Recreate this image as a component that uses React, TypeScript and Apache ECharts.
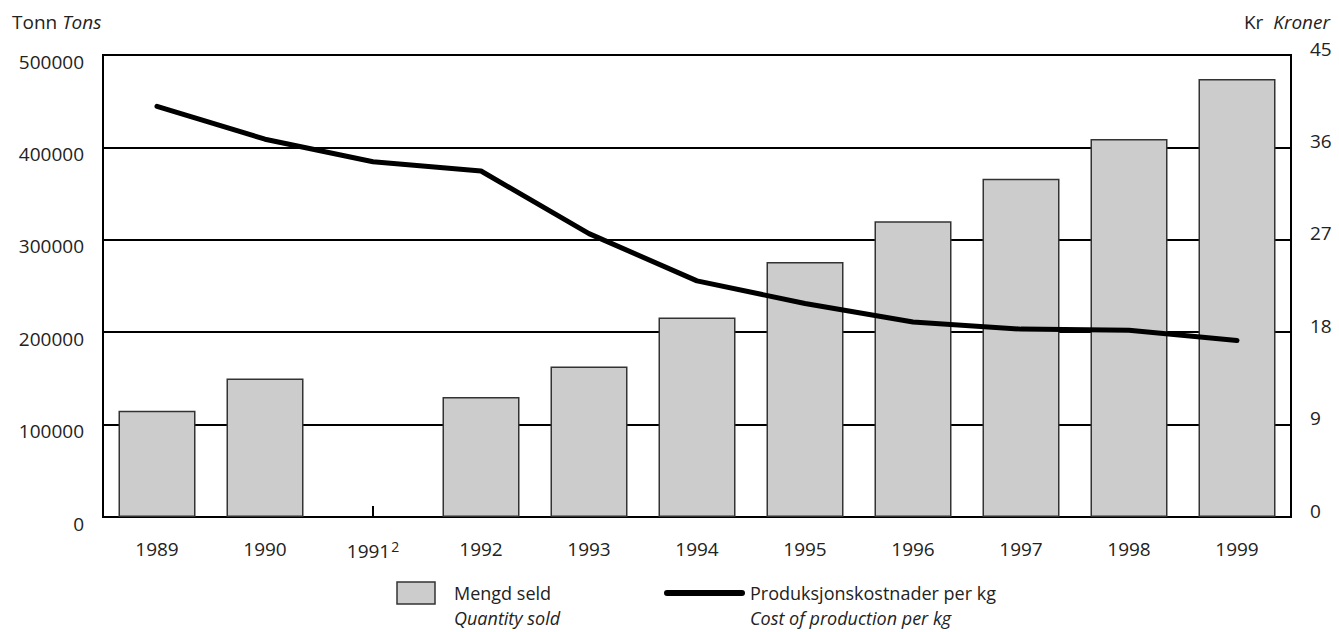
import React, { useEffect, useRef } from "react";
import * as echarts from "echarts";

const years = ["1989", "1990", "1991", "1992", "1993", "1994", "1995", "1996", "1997", "1998", "1999"];
const quantitySold = [115000, 150000, null, 130000, 163000, 216000, 276000, 320000, 366000, 409000, 474000];
const costPerKg = [40.0, 36.8, 34.6, 33.7, 27.6, 23.0, 20.8, 19.0, 18.3, 18.2, 17.2];
const leftTicks = { min: 0, max: 500000, interval: 100000 };
const rightTicks = { min: 0, max: 45, interval: 9 };

const FONT = "'Open Sans', sans-serif";
const TXT = "#222";

export default function App() {
  const ref = useRef<HTMLDivElement>(null);
  useEffect(() => {
    if (!ref.current) return;
    const chart = echarts.init(ref.current, undefined, { renderer: "svg" });
    chart.setOption({
      animation: false,
      backgroundColor: "#fff",
      textStyle: { fontFamily: FONT, color: TXT },
      grid: {
        left: 103,
        right: 48,
        top: 55,
        bottom: 115,
        show: true,
        borderColor: "#000",
        borderWidth: 2,
      },
      xAxis: {
        type: "category",
        data: years,
        boundaryGap: true,
        axisLine: { show: true, lineStyle: { color: "#000", width: 2 } },
        axisTick: {
          show: true,
          alignWithLabel: true,
          inside: true,
          length: 11,
          interval: (index: number) => index === 2,
          lineStyle: { color: "#000", width: 2 },
        },
        axisLabel: {
          interval: 0,
          margin: 22,
          fontSize: 19,
          color: TXT,
          fontFamily: FONT,
          formatter: (v: string) => (v === "1991" ? "1991{sup|2}" : v),
          rich: {
            sup: { fontSize: 14, verticalAlign: "top", padding: [0, 0, 10, 1], color: TXT, fontFamily: FONT },
          },
        },
      },
      yAxis: [
        {
          type: "value",
          min: leftTicks.min,
          max: leftTicks.max,
          interval: leftTicks.interval,
          axisLine: { show: true, lineStyle: { color: "#000", width: 2 } },
          axisTick: { show: false },
          splitLine: { show: true, lineStyle: { color: "#000", width: 2 } },
          axisLabel: {
            margin: 19,
            fontSize: 19,
            lineHeight: 13,
            color: TXT,
            fontFamily: FONT,
            verticalAlign: "top",
            formatter: (v: number) => String(v),
          },
        },
        {
          type: "value",
          min: rightTicks.min,
          max: rightTicks.max,
          interval: rightTicks.interval,
          position: "right",
          axisLine: { show: true, lineStyle: { color: "#000", width: 2 } },
          axisTick: { show: false },
          splitLine: { show: false },
          axisLabel: {
            margin: 19,
            fontSize: 19,
            lineHeight: 13,
            color: TXT,
            fontFamily: FONT,
            verticalAlign: "bottom",
            formatter: (v: number) => String(v),
          },
        },
      ],
      series: [
        {
          name: "Mengd seld",
          type: "bar",
          yAxisIndex: 0,
          data: quantitySold,
          barWidth: 77,
          itemStyle: { color: "#cccccc", borderColor: "#333", borderWidth: 1.5 },
          z: 3,
        },
        {
          name: "Produksjonskostnader per kg",
          type: "line",
          yAxisIndex: 1,
          data: costPerKg,
          showSymbol: false,
          symbol: "none",
          lineStyle: { color: "#000", width: 5, cap: "round", join: "round" },
          z: 5,
        },
      ],
      graphic: [
        {
          type: "text",
          left: 12,
          top: 12,
          style: {
            text: "Tonn {i|Tons}",
            fontSize: 19,
            fontFamily: FONT,
            fill: TXT,
            rich: { i: { fontStyle: "italic", fontSize: 19, fontFamily: FONT, fill: TXT } },
          },
        },
        {
          type: "text",
          right: 9,
          top: 12,
          style: {
            text: "Kr  {i|Kroner}",
            fontSize: 19,
            fontFamily: FONT,
            fill: TXT,
            rich: { i: { fontStyle: "italic", fontSize: 19, fontFamily: FONT, fill: TXT } },
          },
        },
        {
          type: "rect",
          shape: { x: 397, y: 582, width: 38, height: 22 },
          style: { fill: "#cccccc", stroke: "#333", lineWidth: 1.5 },
        },
        {
          type: "text",
          x: 454,
          y: 593,
          style: { text: "Mengd seld", fontSize: 18, fontFamily: FONT, fill: TXT, verticalAlign: "middle" },
        },
        {
          type: "text",
          x: 454,
          y: 618,
          style: { text: "Quantity sold", fontSize: 18, fontStyle: "italic", fontFamily: FONT, fill: TXT, verticalAlign: "middle" },
        },
        {
          type: "line",
          shape: { x1: 667, y1: 593, x2: 742, y2: 593 },
          style: { stroke: "#000", lineWidth: 6, lineCap: "round" },
        },
        {
          type: "text",
          x: 750,
          y: 593,
          style: { text: "Produksjonskostnader per kg", fontSize: 18, fontFamily: FONT, fill: TXT, verticalAlign: "middle" },
        },
        {
          type: "text",
          x: 750,
          y: 618,
          style: { text: "Cost of production per kg", fontSize: 18, fontStyle: "italic", fontFamily: FONT, fill: TXT, verticalAlign: "middle" },
        },
      ],
    });
    return () => chart.dispose();
  }, []);
  return (
    <div
      ref={ref}
      style={{ position: "fixed", left: 0, top: 0, width: 1339, height: 632, background: "#fff" }}
    />
  );
}
